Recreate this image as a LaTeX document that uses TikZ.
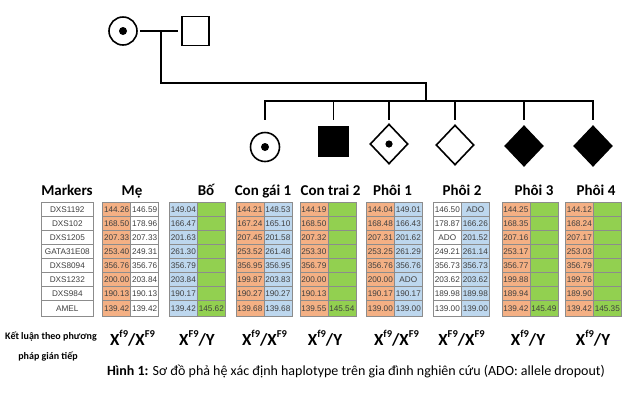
\documentclass[tikz,border=0pt]{standalone}
\usepackage{fontspec}
\setmainfont{Carlito}
\newfontfamily\arialf{Liberation Sans}
\usetikzlibrary{shapes.geometric}
\definecolor{orC}{HTML}{F4B084}
\definecolor{blC}{HTML}{BDD7EE}
\definecolor{grC}{HTML}{92D050}
\definecolor{bdC}{HTML}{8C8C8C}
\definecolor{txC}{HTML}{404040}
\newcommand\gsup[1]{\raisebox{0.42em}{\fontsize{10.5}{10.5}\selectfont #1}}
\newcommand\gtab[5]{%
  \foreach \a/\b [count=\i] in {#5} {
    \pgfmathsetmacro\yt{202.3+14*(\i-1)}
    \pgfmathsetmacro\hh{\i==8 ? 15.7 : 14}
    \node[cell=\hh pt, fill=#3] (#1-\i-a) at (#2,\yt) {\a};
    \node[cell=\hh pt, fill=#4] (#1-\i-b) at (#2+28,\yt) {\b};
  }}
\tikzset{
  cell/.style={draw=bdC, line width=0.6pt, minimum width=28pt, minimum height=#1,
    inner sep=0pt, anchor=north west, font=\arialf\fontsize{8.2}{8.2}\selectfont, text=txC},
  mcell/.style={cell=#1, minimum width=52.6pt, fill=white},
  hdr/.style={font=\bfseries\fontsize{15}{15}\selectfont, anchor=base, inner sep=0pt},
  geno/.style={font=\bfseries\fontsize{17}{17}\selectfont, anchor=base, inner sep=0pt},
  ped/.style={line width=1.8pt, line join=miter},
  pcirc/.style={circle, draw, line width=1.6pt, minimum size=28pt, inner sep=0pt},
  psq/.style={rectangle, draw, line width=1.6pt, minimum width=27pt, minimum height=29pt, inner sep=0pt},
  pdia/.style={diamond, draw, line width=1.6pt, minimum width=38pt, minimum height=40pt, inner sep=0pt},
}
\begin{document}
\begin{tikzpicture}[x=1pt,y=-1pt]
\useasboundingbox[fill=white] (0,0) rectangle (628,400);
% ---------- pedigree ----------
\node[pcirc] (mo) at (123,31) {};
\fill (mo.center) circle (4);
\node[psq] (fa) at (195.5,31) {};
\coordinate (mid) at (161,31);
\coordinate (mid2) at (161,83);
\coordinate (top) at (426,83);
\coordinate (sib) at (426,101);
\coordinate (sibL) at (265,101);
\coordinate (sibR) at (593,101);
\draw[ped, shorten <=2pt, shorten >=3pt] (mo.east) -- (fa.west);
\draw[ped] (mid) -- (mid2) -- (top) -- (sib);
\draw[ped, line cap=rect] (sibL) -- (sibR);

\node[pcirc, minimum size=29pt] (dau) at (265,147) {};
\fill (dau.center) circle (4);
\node[psq, fill=black, minimum width=29pt] (son) at (333.5,141.5) {};
\node[pdia] (e1) at (389,144) {};
\fill (e1.center) circle (3.6);
\node[pdia] (e2) at (455,145) {};
\node[pdia, fill=black] (e3) at (524,146) {};
\node[pdia, fill=black] (e4) at (593,146) {};
\foreach \n/\x in {dau/265, son/333.5, e1/389, e2/455, e3/524, e4/593} {
  \coordinate (s-\n) at (\x,101);
  \coordinate (t-\n) at (\x,120);
  \draw[ped] (s-\n) -- (t-\n);
}
% ---------- headers ----------
\node[hdr] (hm) at (67,195) {Markers};
\node[hdr] (h1) at (132,195) {Mẹ};
\node[hdr] (h2) at (206,195) {Bố};
\node[hdr] (h3) at (263,195) {Con gái 1};
\node[hdr] (h4) at (330.5,195) {Con trai 2};
\node[hdr] (h5) at (392.5,195) {Phôi 1};
\node[hdr] (h6) at (462,195) {Phôi 2};
\node[hdr] (h7) at (534,195) {Phôi 3};
\node[hdr] (h8) at (596,195) {Phôi 4};
% ---------- tables ----------
\foreach \m [count=\i] in {DXS1192,DXS102,DXS1205,GATA31E08,DXS8094,DXS1232,DXS984,AMEL} {
  \pgfmathsetmacro\yt{202.3+14*(\i-1)}
  \pgfmathsetmacro\hh{\i==8 ? 15.7 : 14}
  \node[mcell=\hh pt] (mk-\i) at (40.7,\yt) {\m};
}
\gtab{me}{102.3}{orC}{white}{144.26/146.59,168.50/178.96,207.33/207.33,253.40/249.31,356.76/356.76,200.00/203.84,190.13/190.13,139.42/139.42}
\gtab{bo}{169}{blC}{grC}{149.04/{},166.47/{},201.63/{},261.30/{},356.79/{},203.84/{},190.17/{},139.42/145.62}
\gtab{cg}{235.5}{orC}{blC}{144.21/148.53,167.24/165.10,207.45/201.58,253.52/261.48,356.95/356.95,199.87/203.83,190.27/190.27,139.68/139.68}
\gtab{ct}{299.5}{orC}{grC}{144.19/{},168.50/{},207.32/{},253.30/{},356.79/{},200.00/{},190.13/{},139.55/145.54}
\gtab{p1}{366}{orC}{blC}{144.04/149.01,168.48/166.43,207.31/201.62,253.25/261.29,356.76/356.76,200.00/ADO,190.17/190.17,139.00/139.00}
\gtab{p2}{433}{white}{blC}{146.50/ADO,178.87/166.26,ADO/201.52,249.21/261.14,356.73/356.73,203.62/203.62,189.98/189.98,139.00/139.00}
\gtab{p3}{501.5}{orC}{grC}{144.25/{},168.35/{},207.16/{},253.17/{},356.77/{},199.88/{},189.94/{},139.42/145.49}
\gtab{p4}{565}{orC}{grC}{144.12/{},168.24/{},207.17/{},253.03/{},356.79/{},199.76/{},189.90/{},139.42/145.35}
% ---------- conclusions ----------
\node[font=\bfseries\fontsize{10}{10}\selectfont, inner sep=0pt] (kl1) at (51,337) {Kết luận theo phương};
\node[font=\bfseries\fontsize{10}{10}\selectfont, inner sep=0pt] (kl2) at (48,357) {pháp gián tiếp};
\node[geno] (g1) at (132.5,345) {X\gsup{f9}/X\gsup{F9}};
\node[geno] (g2) at (197,345) {X\gsup{F9}/Y};
\node[geno] (g3) at (264.5,345) {X\gsup{f9}/X\gsup{F9}};
\node[geno] (g4) at (325,345) {X\gsup{f9}/Y};
\node[geno] (g5) at (396.5,345) {X\gsup{f9}/X\gsup{F9}};
\node[geno] (g6) at (461.5,345) {X\gsup{F9}/X\gsup{F9}};
\node[geno] (g7) at (528,345) {X\gsup{f9}/Y};
\node[geno] (g8) at (593,345) {X\gsup{f9}/Y};
% ---------- caption ----------
\node[font=\fontsize{14}{14}\selectfont, inner sep=0pt] (cap) at (356,371)
  {\textbf{Hình 1:} Sơ đồ phả hệ xác định haplotype trên gia đình nghiên cứu (ADO: allele dropout)};
\end{tikzpicture}
\end{document}
